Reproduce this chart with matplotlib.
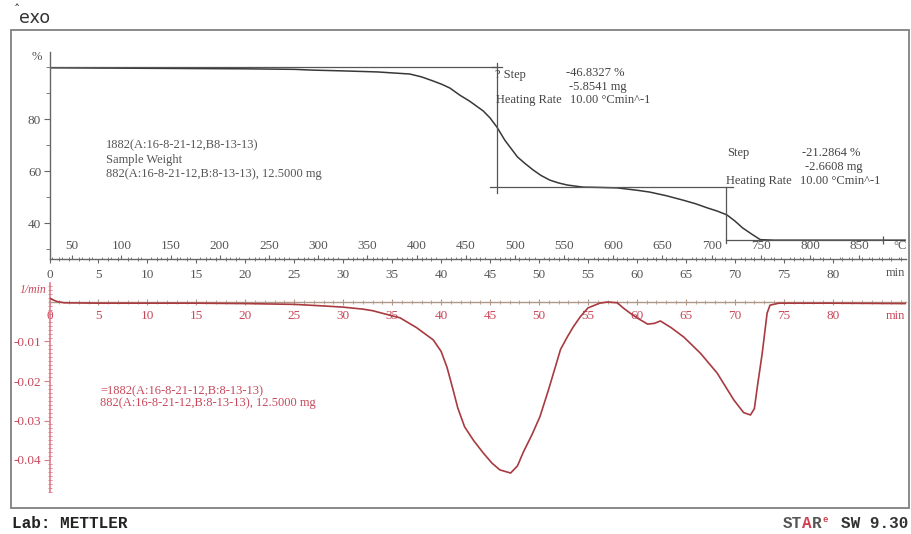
import matplotlib
matplotlib.use('Agg')
import matplotlib.pyplot as plt
from matplotlib.patches import Rectangle
from matplotlib.ticker import MultipleLocator, FixedLocator, FormatStrFormatter

# ---------------- data ----------------
# TGA: time (min) vs mass (%)
tga_time = [0.0, 5.0, 10.0, 15.0, 20.0, 25.0, 26.9, 30.0, 33.5, 36.8, 38.0, 39.2,
            40.1, 40.9, 41.9, 42.9, 44.3, 45.0, 45.7, 46.5, 47.8, 48.6, 49.4, 50.2,
            51.1, 52.0, 52.9, 54.5, 56.0, 58.0, 60.0, 61.3, 63.0, 64.7, 66.0, 67.2,
            68.2, 69.2, 70.0, 70.8, 71.7, 72.6, 74.0, 78.0, 82.0, 87.4]
tga_pct = [99.7, 99.6, 99.5, 99.4, 99.3, 99.1, 98.8, 98.5, 98.1, 97.3, 96.2, 94.6,
           93.3, 91.9, 89.2, 86.9, 83.1, 80.4, 76.9, 71.9, 65.4, 62.8, 60.4, 58.3,
           56.5, 55.4, 54.6, 53.8, 53.7, 53.5, 52.6, 51.9, 50.5, 48.8, 47.4, 45.8,
           44.6, 43.1, 40.8, 38.1, 35.8, 33.6, 33.4, 33.4, 33.4, 33.4]

# DTG: time (min) vs 1/min
dtg_time = [0.0, 0.3, 0.8, 1.5, 5.0, 10.0, 15.0, 20.0, 25.0, 28.0, 30.0, 32.0, 33.0,
            35.0, 35.8, 37.5, 39.2, 40.0, 40.6, 41.2, 41.7, 42.4, 43.3, 44.3, 45.2,
            46.0, 47.1, 47.8, 48.4, 49.3, 50.1, 51.0, 51.6, 52.2, 52.9, 53.5, 54.2,
            55.0, 56.2, 57.0, 58.0, 58.6, 59.3, 60.0, 61.1, 61.8, 62.4, 63.5, 64.8,
            66.5, 68.2, 69.9, 70.9, 71.6, 72.0, 72.3, 72.8, 73.3, 73.6, 74.5, 80.0,
            87.4]
dtg_val = [0.0010, 0.0006, 0.0001, -0.0002, -0.0003, -0.0003, -0.0003, -0.0004,
           -0.0006, -0.0010, -0.0013, -0.0018, -0.0022, -0.0035, -0.0040, -0.0065,
           -0.0096, -0.0125, -0.0165, -0.0220, -0.0268, -0.0316, -0.0350, -0.0382,
           -0.0408, -0.0425, -0.0433, -0.0415, -0.0380, -0.0335, -0.0290, -0.0220,
           -0.0170, -0.0120, -0.0088, -0.0063, -0.0038, -0.0015, -0.0003, 0.0000,
           -0.0002, -0.0015, -0.0028, -0.0040, -0.0056, -0.0054, -0.0048, -0.0065,
           -0.0089, -0.0130, -0.0180, -0.0248, -0.0280, -0.0286, -0.0270, -0.0215,
           -0.0130, -0.0028, -0.0008, -0.0003, -0.0003, -0.0004]

# step evaluation lines
step_time = [45.7, 69.1]
step_level = [100.1, 53.8, 33.5]
step_line_start = [0.0, 45.0, 69.1]
step_line_end = [45.7, 69.8, 85.1]
step_vert_top = [101.5, 53.8]
step_vert_bottom = [51.5, 32.3]

time_ticks = list(range(0, 81, 5))
temp_ticks = list(range(50, 851, 50))
tga_yticks = [40, 60, 80]
dtg_yticks = [-0.04, -0.03, -0.02, -0.01]

T0, RATE = 27.0, 9.95   # temperature axis calibration (°C at t=0, °C/min)

sample_lines = ["1882(A:16-8-21-12,B8-13-13)", "Sample Weight",
                "882(A:16-8-21-12,B:8-13-13), 12.5000 mg"]
dtg_legend = ["=1882(A:16-8-21-12,B:8-13-13)",
              "882(A:16-8-21-12,B:8-13-13), 12.5000 mg"]

# ---------------- figure ----------------
W, H = 911, 534
fig = plt.figure(figsize=(W / 100, H / 100), dpi=100)
SERIF = 'Liberation Serif'
MONO = 'Liberation Mono'
GRAY = '#666666'
TXT = '#444444'
RED = '#c8485a'
PX_PER_MIN = 9.79


def fx(px):
    return px / W


def fy(py):
    return 1 - py / H


def ftext(px, py, s, **kw):
    kw.setdefault('va', 'center')
    kw.setdefault('ha', 'left')
    return fig.text(fx(px), fy(py), s, **kw)


# outer frame
fig.add_artist(Rectangle((fx(11), fy(508)), fx(909) - fx(11), fy(30) - fy(508),
                         transform=fig.transFigure, fill=False, ec='#808080', lw=1.3))

x0 = 49.5
xr = 906
tmax = (xr - x0) / PX_PER_MIN

# ---------- top: TGA ----------
top_y0, top_y1 = 52, 259
ax1 = fig.add_axes([fx(x0), fy(top_y1), fx(xr) - fx(x0), fy(top_y0) - fy(top_y1)])
ax1.set_xlim(0, tmax)
ax1.set_ylim(100 - (top_y1 - 67) / 2.6, 100 - (top_y0 - 67) / 2.6)
ax1.patch.set_alpha(0)
for s in ['top', 'right']:
    ax1.spines[s].set_visible(False)
for s in ['left', 'bottom']:
    ax1.spines[s].set_color(GRAY)
    ax1.spines[s].set_linewidth(1.0)

ax1.plot(tga_time, tga_pct, color='#383838', lw=1.1)
# step evaluation lines
for i in range(3):
    ax1.plot([step_line_start[i], step_line_end[i]], [step_level[i], step_level[i]],
             color='#555555', lw=0.9)
for i in range(2):
    ax1.plot([step_time[i], step_time[i]], [step_vert_bottom[i], step_vert_top[i]],
             color='#555555', lw=0.9)
ax1.plot([step_line_end[2]], [step_level[2]], marker='|', ms=6, color='#555555', mew=0.9)
ax1.plot([step_time[0] - 0.5, step_time[0] + 0.5], [step_level[0], step_level[0]],
         color='#555555', lw=0.9)

ax1.xaxis.set_major_locator(FixedLocator(time_ticks))
ax1.xaxis.set_minor_locator(MultipleLocator(1))
ax1.tick_params(axis='x', which='major', direction='out', length=3, width=0.8,
                color=GRAY, labelcolor='#555555', labelsize=9.5, pad=4)
ax1.tick_params(axis='x', which='minor', direction='inout', length=2.5, width=0.6,
                color=GRAY)
ax1.yaxis.set_major_locator(FixedLocator(tga_yticks))
ax1.yaxis.set_minor_locator(MultipleLocator(10))
ax1.tick_params(axis='y', which='major', direction='out', length=4, width=0.8,
                color=GRAY, labelcolor='#555555', labelsize=9.5, pad=2)
ax1.tick_params(axis='y', which='minor', direction='out', length=3, width=0.6,
                color=GRAY)
for lab in ax1.get_xticklabels() + ax1.get_yticklabels():
    lab.set_fontfamily(SERIF)

sec = ax1.secondary_xaxis(0.0, functions=(lambda t: T0 + RATE * t,
                                          lambda T: (T - T0) / RATE))
sec.set_alignment('top')
sec.spines['top'].set_visible(False)
sec.xaxis.set_major_locator(FixedLocator(temp_ticks))
sec.xaxis.set_minor_locator(MultipleLocator(10))
sec.tick_params(axis='x', which='major', direction='out', length=3, width=0.8,
                color=GRAY, labelcolor='#555555', labelsize=9.5, pad=2)
sec.tick_params(axis='x', which='minor', direction='out', length=1.5, width=0.6,
                color=GRAY)
for lab in sec.get_xticklabels():
    lab.set_fontfamily(SERIF)

# ---------- bottom: DTG ----------
bot_y0, bot_y1 = 283, 492
ax2 = fig.add_axes([fx(x0), fy(bot_y1), fx(xr) - fx(x0), fy(bot_y0) - fy(bot_y1)])
ax2.set_xlim(0, tmax)
ax2.set_ylim(-(bot_y1 - 302) / 3950, (302 - bot_y0) / 3950)
ax2.patch.set_alpha(0)
for s in ['top', 'right']:
    ax2.spines[s].set_visible(False)
ax2.spines['bottom'].set_position(('data', 0))
ax2.spines['bottom'].set_color('#b09888')
ax2.spines['bottom'].set_linewidth(1.0)
ax2.spines['left'].set_color('#e07a8a')
ax2.spines['left'].set_linewidth(1.2)

ax2.plot(dtg_time, dtg_val, color='#a83a40', lw=1.2, zorder=3)

ax2.xaxis.set_major_locator(FixedLocator(time_ticks))
ax2.xaxis.set_minor_locator(MultipleLocator(1))
ax2.tick_params(axis='x', which='major', direction='inout', length=5, width=0.8,
                color='#b09888', labelcolor=RED, labelsize=9.5, pad=3)
ax2.tick_params(axis='x', which='minor', direction='inout', length=2.5, width=0.6,
                color='#b09888')
ax2.yaxis.set_major_locator(FixedLocator(dtg_yticks))
ax2.yaxis.set_major_formatter(FormatStrFormatter('%.2f'))
ax2.yaxis.set_minor_locator(MultipleLocator(0.001))
ax2.tick_params(axis='y', which='major', direction='out', length=4, width=0.8,
                color='#e07a8a', labelcolor=RED, labelsize=9.5, pad=2)
ax2.tick_params(axis='y', which='minor', direction='inout', length=3, width=0.6,
                color='#e07a8a')
for lab in ax2.get_xticklabels() + ax2.get_yticklabels():
    lab.set_fontfamily(SERIF)

# ---------------- texts ----------------
ftext(14, 11, 'ˆ', fontsize=9, color='#333333', family='DejaVu Sans')
ftext(19, 18, 'exo', fontsize=12.5, color='#333333', family='DejaVu Sans')

ftext(37, 57, '%', fontsize=9, color='#555555', family=SERIF, ha='center')
ftext(900, 246, '°C', fontsize=9, color='#555555', family=SERIF, ha='center')
ftext(895, 273, 'min', fontsize=9, color='#555555', family=SERIF, ha='center')
ftext(895, 316, 'min', fontsize=9, color=RED, family=SERIF, ha='center')
ftext(33, 290, '1/min', fontsize=8.5, color=RED, family=SERIF, ha='center',
      style='italic')

for i, s in enumerate(sample_lines):
    ftext(106, 145 + 14.5 * i, s, fontsize=9, color='#555555', family=SERIF)
for i, s in enumerate(dtg_legend):
    ftext(100, 391 + 12 * i, s, fontsize=9, color=RED, family=SERIF)

ann = dict(fontsize=9, color=TXT, family=SERIF)
ftext(495, 75, '? Step', **ann)
ftext(566, 73, '-46.8327 %', **ann)
ftext(569, 87, '-5.8541 mg', **ann)
ftext(496, 100, 'Heating Rate', **ann)
ftext(570, 100, '10.00 °Cmin^-1', **ann)

ftext(727, 153, 'Step', **ann)
ftext(802, 153, '-21.2864 %', **ann)
ftext(805, 167, '-2.6608 mg', **ann)
ftext(726, 181, 'Heating Rate', **ann)
ftext(800, 181, '10.00 °Cmin^-1', **ann)

ftext(12, 523, 'Lab: METTLER', fontsize=11.5, color='#222222', family=MONO,
      weight='bold')
cw = 9.6
ftext(783, 523, 'ST', fontsize=11.5, color='#555555', family=MONO, weight='bold')
ftext(783 + 2 * cw, 523, 'A', fontsize=11.5, color='#d04050', family=MONO, weight='bold')
ftext(783 + 3 * cw, 523, 'R', fontsize=11.5, color='#555555', family=MONO, weight='bold')
ftext(783 + 4 * cw + 1, 519, 'e', fontsize=6.5, color='#d04050', family=MONO, weight='bold')
ftext(841, 523, 'SW 9.30', fontsize=11.5, color='#333333', family=MONO, weight='bold')

fig.savefig('out.png', dpi=100)
